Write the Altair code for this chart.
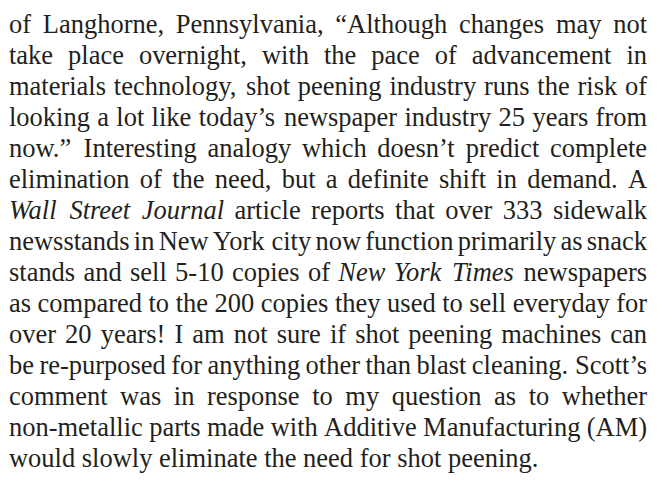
import altair as alt
import pandas as pd

# ---- text content (one entry per printed line; *word* = italic) ----
lines = [
    "of Langhorne, Pennsylvania, “Although changes may not",
    "take place overnight, with the pace of advancement in",
    "materials technology, shot peening industry runs the risk of",
    "looking a lot like today’s newspaper industry 25 years from",
    "now.” Interesting analogy which doesn’t predict complete",
    "elimination of the need, but a definite shift in demand. A",
    "*Wall* *Street* *Journal* article reports that over 333 sidewalk",
    "newsstands in New York city now function primarily as snack",
    "stands and sell 5-10 copies of *New* *York* *Times* newspapers",
    "as compared to the 200 copies they used to sell everyday for",
    "over 20 years! I am not sure if shot peening machines can",
    "be re-purposed for anything other than blast cleaning. Scott’s",
    "comment was in response to my question as to whether",
    "non-metallic parts made with Additive Manufacturing (AM)",
    "would slowly eliminate the need for shot peening.",
]
justified = [True] * 14 + [False]

# ---- layout settings ----
FONT = "Liberation Serif"
FS = 26.8
COLOR = "#231f20"
LEFT, RIGHT = 9.0, 655.0
BASE0, LEAD = 30.0, 31.4
W, H = 652, 468

# Times-compatible advance widths (1/1000 em) used to justify lines
_roman = dict(zip("abcdefghijklmnopqrstuvwxyz",
                  [444, 500, 444, 500, 444, 333, 500, 500, 278, 278, 500, 278, 778,
                   500, 500, 500, 500, 333, 389, 278, 500, 500, 722, 500, 500, 444]))
_roman.update(zip("ABCDEFGHIJKLMNOPQRSTUVWXYZ",
                  [722, 667, 667, 722, 611, 556, 722, 722, 333, 389, 722, 611, 889,
                   722, 722, 556, 722, 667, 556, 611, 722, 722, 944, 722, 722, 611]))
_italic = dict(zip("abcdefghijklmnopqrstuvwxyz",
                   [500, 500, 444, 500, 444, 278, 500, 500, 278, 278, 444, 278, 722,
                    500, 500, 500, 500, 389, 389, 278, 500, 444, 667, 444, 444, 389]))
_italic.update(zip("ABCDEFGHIJKLMNOPQRSTUVWXYZ",
                   [611, 611, 667, 722, 611, 611, 722, 722, 333, 444, 667, 556, 833,
                    667, 722, 611, 722, 611, 500, 556, 722, 611, 833, 611, 556, 556]))
_punct = {" ": 250, ",": 250, ".": 250, "!": 333, "(": 333, ")": 333, "-": 333,
          ":": 278, ";": 278, "’": 333, "“": 444, "”": 444}
for d in "0123456789":
    _punct[d] = 500


def width(word, italic):
    table = _italic if italic else _roman
    return sum(table.get(c, _punct.get(c, 500)) for c in word) * FS / 1000.0


rows = []
for li, (text, just) in enumerate(zip(lines, justified)):
    toks = text.split(" ")
    words = []
    for t in toks:
        it = t.startswith("*") and t.endswith("*")
        words.append((t.strip("*"), it))
    ws = [width(w, it) for w, it in words]
    n = len(words)
    if just and n > 1:
        gap = (RIGHT - LEFT - sum(ws)) / (n - 1)
    else:
        gap = 250 * FS / 1000.0
    x = LEFT
    for i, ((w, it), ww) in enumerate(zip(words, ws)):
        last = just and i == n - 1
        rows.append({
            "word": w,
            "x": RIGHT if last else x,
            "y": BASE0 + LEAD * li,
            "style": "italic" if it else "normal",
            "anchor": "right" if last else "left",
        })
        x += ww + gap

df = pd.DataFrame(rows)

base = alt.Chart(df).encode(
    x=alt.X("x:Q", scale=alt.Scale(domain=[8, 8 + W], range=[0, W]), axis=None),
    y=alt.Y("y:Q", scale=alt.Scale(domain=[8, 8 + H], range=[0, H]), axis=None),
    text="word:N",
)

common = dict(baseline="alphabetic", font=FONT, fontSize=FS, color=COLOR)

roman_left = base.transform_filter(
    "datum.style == 'normal' && datum.anchor == 'left'"
).mark_text(align="left", **common)
italic_left = base.transform_filter(
    "datum.style == 'italic' && datum.anchor == 'left'"
).mark_text(align="left", fontStyle="italic", **common)
roman_right = base.transform_filter(
    "datum.anchor == 'right'"
).mark_text(align="right", **common)

chart = alt.layer(roman_left, italic_left, roman_right).properties(
    width=W, height=H, padding=0, autosize="none", background="white"
).configure_view(stroke=None)

chart.save("out.html", embed_options={"renderer": "svg", "actions": False})
